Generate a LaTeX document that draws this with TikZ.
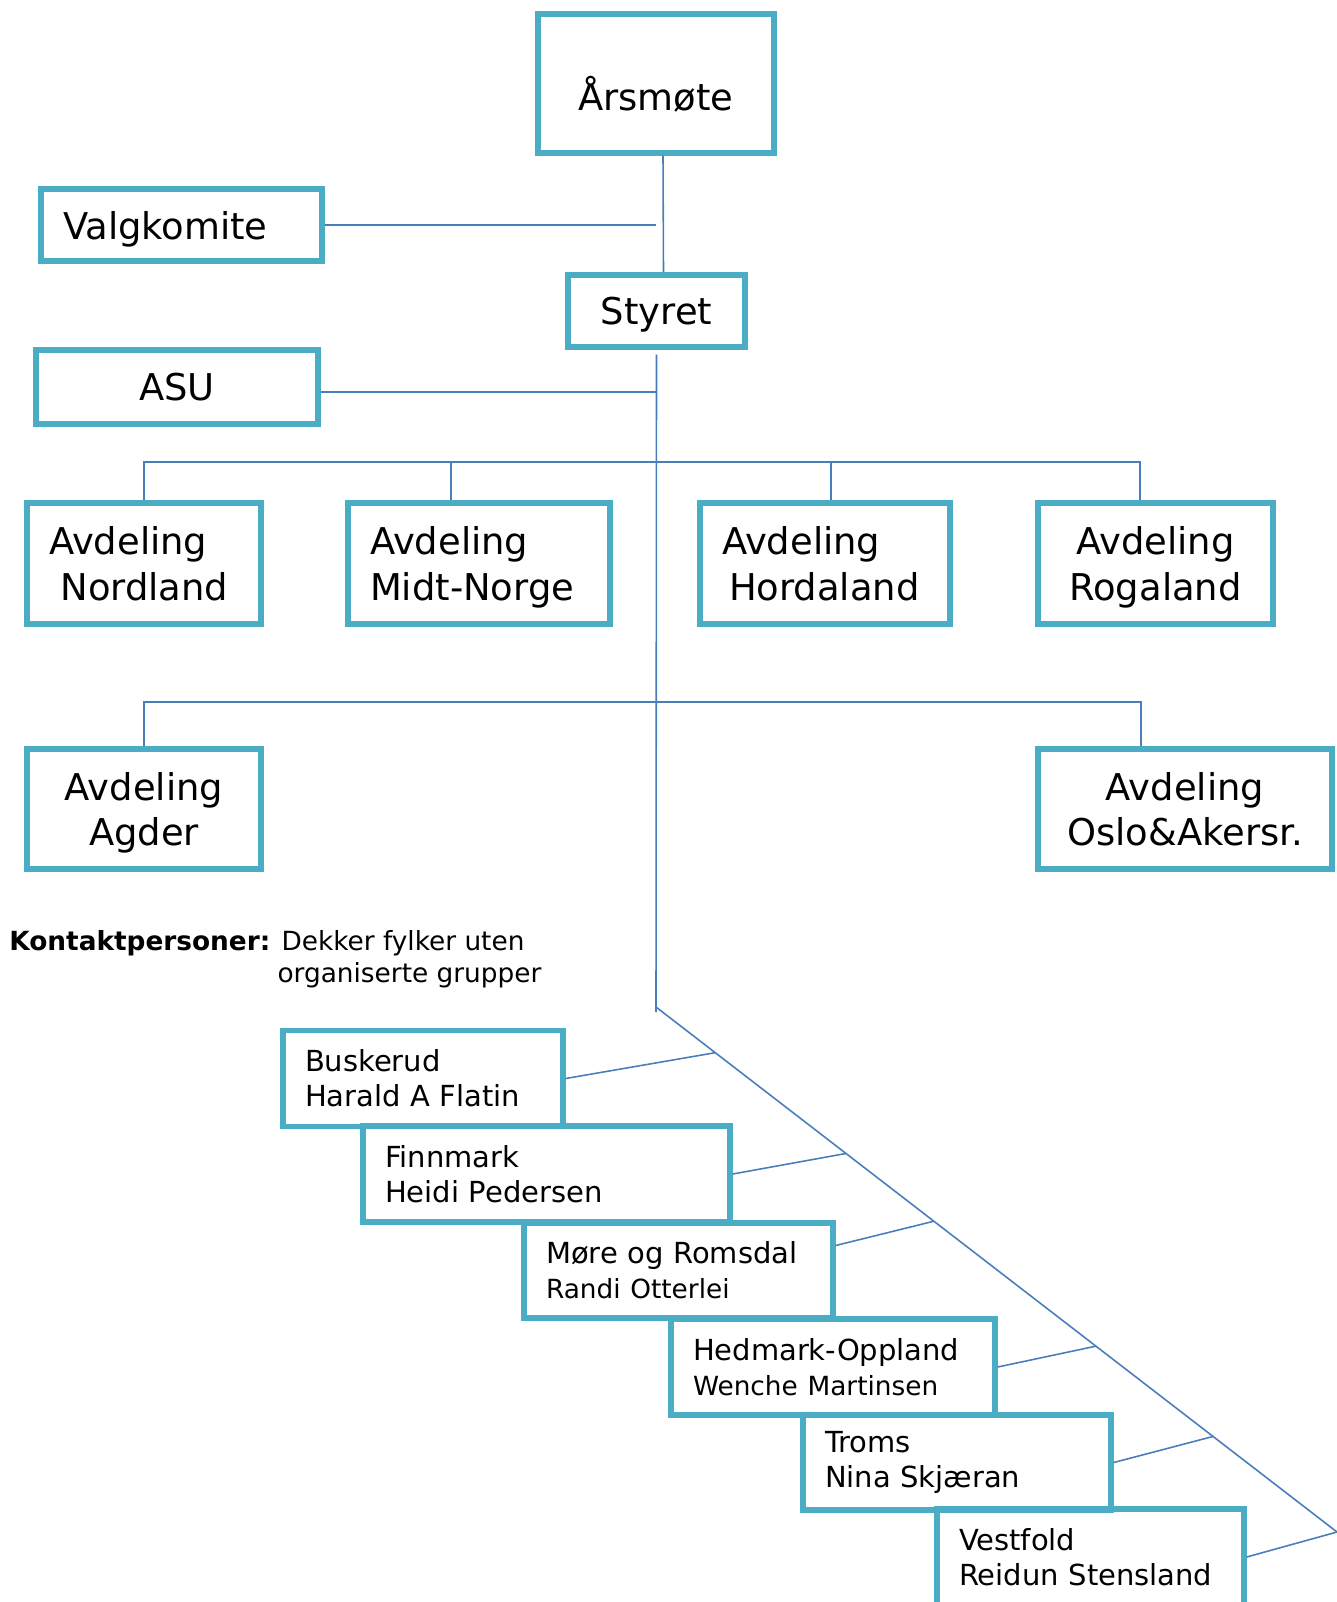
\documentclass[tikz,border=0pt]{standalone}
\usepackage{fontspec}
\setmainfont{DejaVu Sans}
\usepackage{xcolor}
\usetikzlibrary{calc}

\definecolor{boksblaa}{RGB}{75,172,198}
\definecolor{linjeblaa}{RGB}{74,126,187}
\newcommand{\storfont}{\fontsize{21}{26}\selectfont}
\newcommand{\kfont}{\fontsize{16.5}{20}\selectfont}
\newcommand{\smafont}{\fontsize{15}{18.5}\selectfont}

\tikzset{
  boks/.style={draw=boksblaa, line width=3.1pt, rectangle},
  enhet/.style={boks, font=\storfont, align=center, text depth=0pt},
  venstre/.style={boks, font=\storfont, align=left, inner xsep=0.44cm, text width=#1},
  kontakt/.style={boks, font=\kfont, align=left, inner xsep=0.44cm, text width=#1, minimum height=1.92cm},
  linje/.style={draw=linjeblaa, line width=0.9pt}
}

\begin{document}
\begin{tikzpicture}[x=0.02cm, y=-0.02cm]

    \useasboundingbox (0,0) rectangle (1337,1602);

    \node [enhet, minimum width=4.72cm, minimum height=2.78cm] (aars) at (656,83.5) {\raisebox{-0.2cm}[\height][\depth]{Årsmøte}};
    \node [venstre=4.74cm, minimum height=1.44cm, text depth=0pt] (valg) at (181.5,225) {Valgkomite};
    \node [enhet, minimum width=3.54cm, minimum height=1.44cm] (styret) at (656.5,311) {Styret};
    \node [enhet, minimum width=5.64cm, minimum height=1.48cm] (asu) at (177,387) {ASU};

    \node [venstre=3.80cm, minimum height=2.42cm] (nord) at (144,563.5) {Avdeling\\\hspace*{0.23cm}Nordland};
    \node [venstre=4.36cm, minimum height=2.42cm] (midt) at (479,563.5) {Avdeling\\\smash{Midt-Norge}};
    \node [venstre=4.12cm, minimum height=2.42cm] (horda) at (825,563.5) {Avdeling\\\hspace*{0.14cm}Hordaland};
    \node [enhet, minimum width=4.70cm, minimum height=2.42cm] (roga) at (1155.5,563.5) {Avdeling\\Rogaland};
    \node [enhet, minimum width=4.68cm, minimum height=2.40cm] (agder) at (144,809) {Avdeling\\Agder};
    \node [enhet, minimum width=5.88cm, minimum height=2.40cm] (oslo) at (1185,809) {Avdeling\\Oslo\&Akersr.};

    \node [anchor=base west, font=\smafont, inner sep=0pt] (info) at (9,950)
      {\begin{tabular}[t]{@{}l@{ }l@{}}\textbf{Kontaktpersoner:} & Dekker fylker uten\\ & \hspace*{-0.08cm}organiserte grupper\end{tabular}};

    \node [kontakt=4.72cm] (busk) at (423,1078.5) {Buskerud\\Harald A Flatin};
    \node [kontakt=6.46cm] (finn) at (546.5,1174) {Finnmark\\Heidi Pedersen};
    \node [kontakt=5.30cm, minimum height=1.90cm] (more) at (678.5,1270.5) {Møre og Romsdal\\{\smafont Randi Otterlei}};
    \node [kontakt=5.60cm] (hedm) at (833,1367) {Hedmark-Oppland\\{\smafont Wenche Martinsen}};
    \node [kontakt=5.28cm, minimum height=1.90cm] (troms) at (957,1462.5) {Troms\\Nina Skjæran};
    \node [kontakt=5.26cm] (vest) at (1090.5,1557) {Vestfold\\Reidun Stensland};

    \coordinate (rad1) at (656,462);
    \coordinate (rad2) at (656,702);
    \coordinate (bunn) at (656,1012);
    \coordinate (knekk) at (656,1007);
    \coordinate (slutt) at (1337,1532);
    \coordinate (asuut) at ([yshift=-0.1cm]asu.east);
    \coordinate (dmidt) at ([xshift=-0.56cm]midt.north);
    \coordinate (dhorda) at ([xshift=0.12cm]horda.north);
    \coordinate (droga) at ([xshift=-0.31cm]roga.north);
    \coordinate (doslo) at ([xshift=-0.88cm]oslo.north);

    \draw [linje] ([xshift=0.14cm]aars.south) -- ([xshift=0.14cm]styret.north);
    \draw [linje] (valg.east) -- (valg.east -| knekk);
    \draw [linje] ([yshift=-0.1cm]styret.south) -- (bunn);
    \draw [linje] (asuut) -- (asuut -| knekk);

    \draw [linje] (nord.north) |- (rad1 -| droga) -- (droga);
    \draw [linje] (rad1 -| dmidt) -- (dmidt);
    \draw [linje] (rad1 -| dhorda) -- (dhorda);
    \draw [linje] (agder.north) |- (rad2 -| doslo) -- (doslo);

    \draw [linje] (knekk) -- (slutt);
    \draw [linje] (busk.east) -- ($(knekk)!0.087!(slutt)$);
    \draw [linje] (finn.east) -- ($(knekk)!0.279!(slutt)$);
    \draw [linje] ([yshift=0.5cm]more.east) -- ($(knekk)!0.408!(slutt)$);
    \draw [linje] (hedm.east) -- ($(knekk)!0.646!(slutt)$);
    \draw [linje] (troms.east) -- ($(knekk)!0.818!(slutt)$);
    \draw [linje] (vest.east) -- (slutt);

  \end{tikzpicture}
\end{document}
